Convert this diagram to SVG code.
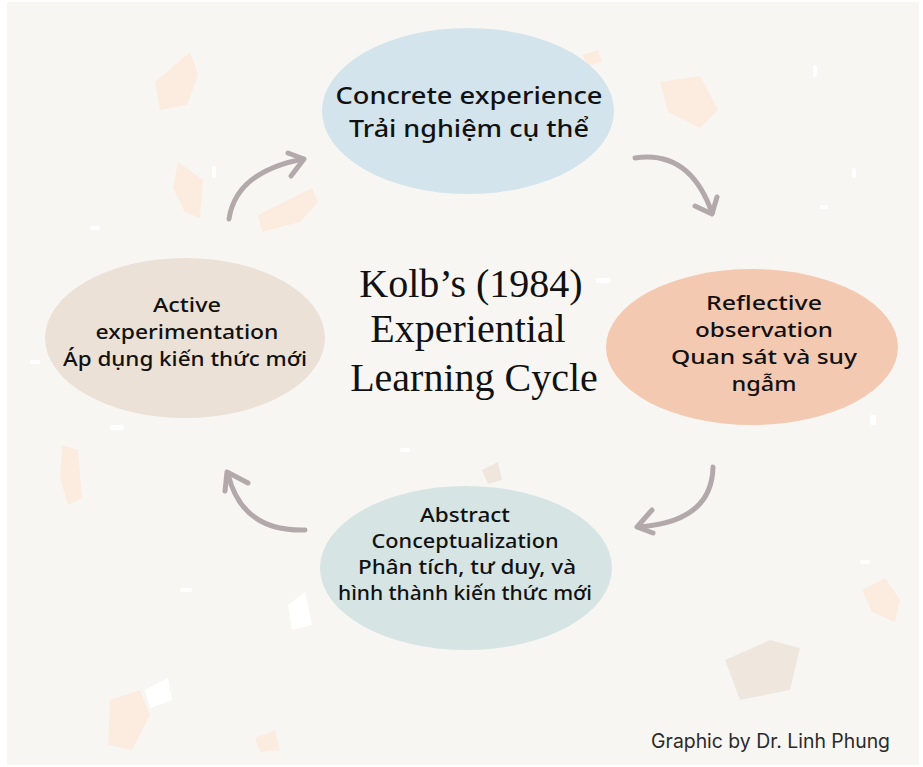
<svg xmlns="http://www.w3.org/2000/svg" width="923" height="767" viewBox="0 0 923 767">
<defs>
<style>
.node text{font-family:"Noto Sans","Open Sans",sans-serif;font-weight:500;fill:#111;text-anchor:middle}
.title{font-family:"Liberation Serif","DejaVu Serif",serif;font-size:40px;fill:#111;text-anchor:middle}
.arrow{fill:none;stroke:#b3a9ab;stroke-width:5;stroke-linecap:round;stroke-linejoin:round}
.peach{fill:#fcece0}
.beige{fill:#efe6de}
.wht{fill:#ffffff}
</style>
</defs>
<rect x="0" y="0" width="923" height="767" fill="#ffffff"/>
<rect x="7" y="2" width="912" height="763" fill="#f8f6f3"/>
<g id="confetti">
<polygon class="peach" points="190,52 198,75 187,105 160,110 155,82"/>
<polygon class="peach" points="178,162 203,180 200,218 185,212 173,188"/>
<polygon class="peach" points="258,215 312,188 318,202 300,222 262,232"/>
<polygon class="peach" points="660,82 700,76 718,110 700,128 668,112"/>
<polygon class="peach" points="582,55 598,50 602,62 588,66"/>
<polygon class="peach" points="62,445 78,450 82,498 68,505 60,478"/>
<polygon class="peach" points="862,590 885,578 900,600 895,622 872,612"/>
<polygon class="beige" points="725,660 770,640 800,648 790,690 740,700"/>
<polygon class="peach" points="110,700 140,690 150,715 132,750 108,745"/>
<polygon class="wht" points="145,690 168,678 172,700 150,708"/>
<polygon class="wht" points="288,605 305,592 312,625 292,630"/>
<polygon class="beige" points="482,470 498,462 502,480 488,484"/>
<polygon class="peach" points="255,738 275,730 280,750 260,752"/>
<rect class="wht" x="813" y="65" width="4" height="12" rx="2"/>
<rect class="wht" x="852" y="168" width="4" height="10" rx="2"/>
<rect class="wht" x="820" y="205" width="8" height="4" rx="2"/>
<rect class="wht" x="90" y="226" width="10" height="4" rx="2"/>
<rect class="wht" x="110" y="425" width="14" height="5" rx="2"/>
<rect class="wht" x="30" y="360" width="10" height="4" rx="2"/>
<rect class="wht" x="870" y="415" width="6" height="10" rx="2"/>
<rect class="wht" x="860" y="560" width="10" height="4" rx="2"/>
<rect class="wht" x="180" y="588" width="12" height="4" rx="2"/>
<rect class="wht" x="400" y="448" width="10" height="4" rx="2"/>
<rect class="wht" x="212" y="166" width="4" height="12" rx="2"/>
<rect class="wht" x="596" y="278" width="14" height="5" rx="2"/>
</g>
<g id="connectors">
<path class="arrow" d="M229,219 Q236,172 303,159"/>
<path class="arrow" d="M288,153 L304,159 L291,176"/>
<path class="arrow" d="M635,158 Q690,150 712,213"/>
<path class="arrow" d="M695,206 L712,214 L717,197"/>
<path class="arrow" d="M713,467 Q712,522 638,527"/>
<path class="arrow" d="M652,510 L637,527 L653,533"/>
<path class="arrow" d="M305,530 Q242,532 228,474"/>
<path class="arrow" d="M248,483 L227,472 L225,491"/>
</g>
<g id="concrete" class="node">
<ellipse cx="468" cy="111" rx="146" ry="83" fill="#d4e4ed"/>
<text x="469" y="104" font-size="24" textLength="267" lengthAdjust="spacingAndGlyphs">Concrete experience</text>
<text x="469" y="137" font-size="24" textLength="240" lengthAdjust="spacingAndGlyphs">Trải nghiệm cụ thể</text>
</g>
<g id="reflective" class="node">
<ellipse cx="752" cy="347" rx="146" ry="78" fill="#f4c9b1"/>
<text x="764" y="310" font-size="20" textLength="116" lengthAdjust="spacingAndGlyphs">Reflective</text>
<text x="764" y="337" font-size="20" textLength="138" lengthAdjust="spacingAndGlyphs">observation</text>
<text x="764" y="364" font-size="20" textLength="186" lengthAdjust="spacingAndGlyphs">Quan sát và suy</text>
<text x="764" y="391" font-size="20" textLength="65" lengthAdjust="spacingAndGlyphs">ngẫm</text>
</g>
<g id="active" class="node">
<ellipse cx="185" cy="338" rx="140" ry="80" fill="#ebe1d7"/>
<text x="187" y="312" font-size="20" textLength="68" lengthAdjust="spacingAndGlyphs">Active</text>
<text x="187" y="339" font-size="20" textLength="183" lengthAdjust="spacingAndGlyphs">experimentation</text>
<text x="185" y="366" font-size="20" textLength="244" lengthAdjust="spacingAndGlyphs">Áp dụng kiến thức mới</text>
</g>
<g id="abstract" class="node">
<ellipse cx="466" cy="568" rx="146" ry="82" fill="#d6e5e4"/>
<text x="465" y="522" font-size="19" textLength="90" lengthAdjust="spacingAndGlyphs">Abstract</text>
<text x="465" y="548" font-size="19" textLength="187" lengthAdjust="spacingAndGlyphs">Conceptualization</text>
<text x="467" y="574" font-size="19" textLength="218" lengthAdjust="spacingAndGlyphs">Phân tích, tư duy, và</text>
<text x="465" y="600" font-size="19" textLength="254" lengthAdjust="spacingAndGlyphs">hình thành kiến thức mới</text>
</g>
<g id="title">
<text class="title" x="471" y="297">Kolb’s (1984)</text>
<text class="title" x="468" y="342">Experiential</text>
<text class="title" x="474" y="391">Learning Cycle</text>
</g>
<text x="890" y="748" font-family="Inter,'Noto Sans',sans-serif" font-size="19.4" fill="#2a2a2a" text-anchor="end">Graphic by Dr. Linh Phung</text>
</svg>
